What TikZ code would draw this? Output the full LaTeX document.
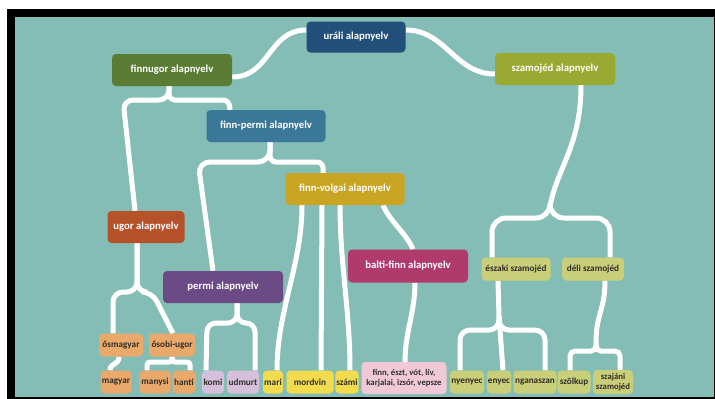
\documentclass[tikz,border=0pt]{standalone}
\usepackage{fontspec}
\setmainfont{Carlito}
\usetikzlibrary{backgrounds}
\definecolor{tealbg}{HTML}{84BDB5}
\definecolor{cUral}{HTML}{22507B}
\definecolor{cFinnugor}{HTML}{5B7C34}
\definecolor{cSzamojed}{HTML}{99A931}
\definecolor{cFinnpermi}{HTML}{3A7799}
\definecolor{cFinnvolgai}{HTML}{C9A523}
\definecolor{cUgor}{HTML}{B5522A}
\definecolor{cPermi}{HTML}{6B4A85}
\definecolor{cBalti}{HTML}{B03A6A}
\definecolor{cSam}{HTML}{C9CF78}
\definecolor{cOrange}{HTML}{E9A96A}
\definecolor{cLav}{HTML}{D5BFDB}
\definecolor{cYellow}{HTML}{F3DB4E}
\definecolor{cPink}{HTML}{F1C8D7}
\definecolor{leaftext}{HTML}{2E2E2A}
\begin{document}
\begin{tikzpicture}[x=1pt,y=-1pt,
  box/.style={rounded corners=4pt,inner sep=1pt,align=center,text=white,
    minimum height=32pt,font=\bfseries\fontsize{10.7}{11}\selectfont},
  leaf/.style={box,text=leaftext,minimum height=23pt,
    font=\bfseries\fontsize{9.2}{10}\selectfont},
  link/.style={draw=white,line width=5pt}]
\useasboundingbox (0,0) rectangle (715,399);
% top levels
\node[box,fill=cUral,minimum width=99pt,minimum height=31pt] (ural) at (356,37) {uráli alapnyelv};
\node[box,fill=cFinnugor,minimum width=120pt] (finnugor) at (172,70) {finnugor alapnyelv};
\node[box,fill=cSzamojed,minimum width=120pt] (szamojed) at (555,69) {szamojéd alapnyelv};
\node[box,fill=cFinnpermi,minimum width=119pt] (finnpermi) at (266,126) {finn-permi alapnyelv};
\node[box,fill=cFinnvolgai,minimum width=119pt] (finnvolgai) at (345,189) {finn-volgai alapnyelv};
\node[box,fill=cUgor,minimum width=77pt] (ugor) at (146,227) {ugor alapnyelv};
\node[box,fill=cPermi,minimum width=120pt] (permi) at (223,287) {permi alapnyelv};
\node[box,fill=cBalti,minimum width=120pt,minimum height=33pt] (balti) at (408,266) {balti-finn alapnyelv};
\node[leaf,fill=cSam,minimum width=69pt] (eszaki) at (516,269) {északi szamojéd};
\node[leaf,fill=cSam,minimum width=62pt] (deli) at (593,269) {déli szamojéd};
\node[leaf,fill=cOrange,minimum width=44pt] (osmagyar) at (121,345) {ősmagyar};
\node[leaf,fill=cOrange,minimum width=46pt] (osobi) at (172,345) {ősobi-ugor};
% leaves
\node[leaf,fill=cOrange,minimum width=31pt] (magyar) at (116,382) {magyar};
\node[leaf,fill=cOrange,minimum width=31pt] (manysi) at (155,382) {manysi};
\node[leaf,fill=cOrange,minimum width=23pt] (hanti) at (184,382) {hanti};
\node[leaf,fill=cLav,minimum width=22pt] (komi) at (213,382) {komi};
\node[leaf,fill=cLav,minimum width=32pt] (udmurt) at (243,382) {udmurt};
\node[leaf,fill=cYellow,minimum width=20pt] (mari) at (273,382) {mari};
\node[leaf,fill=cYellow,minimum width=47pt] (mordvin) at (310,382) {mordvin};
\node[leaf,fill=cYellow,minimum width=23pt] (szami) at (347,382) {számi};
\node[leaf,fill=cPink,minimum width=85pt,minimum height=32pt,font=\bfseries\fontsize{8.7}{9.5}\selectfont] (finn) at (404,378) {finn, észt, vót, lív,\\karjalai, izsór, vepsze};
\node[leaf,fill=cSam,minimum width=34pt] (nyenyec) at (467,382) {nyenyec};
\node[leaf,fill=cSam,minimum width=24pt] (enyec) at (499,382) {enyec};
\node[leaf,fill=cSam,minimum width=43pt] (nganaszan) at (535,382) {nganaszan};
\node[leaf,fill=cSam,minimum width=33pt] (szolkup) at (574,382) {szölkup};
\node[leaf,fill=cSam,minimum width=40pt,minimum height=24pt,font=\bfseries\fontsize{8.7}{9.5}\selectfont] (szajani) at (613,382) {szajáni\\szamojéd};
% junctions
\coordinate (fuL) at (123,100);
\coordinate (fuR) at (229,100);
\coordinate (fpL) at (198,162);
\coordinate (fpR) at (323,162);
\coordinate (ugL) at (113,292);
\coordinate (ugR) at (152,292);
\coordinate (obL) at (147,362);
\coordinate (obR) at (190,362);
\coordinate (peL) at (207,323);
\coordinate (peR) at (255,323);
\coordinate (jsz) at (550,206);
\coordinate (szL) at (492,218);
\coordinate (szR) at (610,218);
\coordinate (jes) at (499,316);
\coordinate (esL) at (460,330);
\coordinate (esR) at (545,330);
\coordinate (jde) at (596,343);
\coordinate (deL) at (570,351);
\coordinate (deR) at (620,351);
\begin{scope}[on background layer]
\fill[black] (7,9) rectangle (715,399);
\fill[tealbg] (15,17) rectangle (714,397);
\draw[link] ([yshift=7pt]ural.west) .. controls +(-38,0) and +(38,0) .. ([yshift=-7pt]finnugor.east);
\draw[link] ([yshift=7pt]ural.east) .. controls +(40,0) and +(-40,0) .. ([yshift=-5pt]szamojed.west);
\draw[link,rounded corners=10pt] ([xshift=-3pt]finnugor.south) |- (fuL) -- ([xshift=-11pt]ugor.north);
\draw[link,rounded corners=6pt] ([xshift=-3pt]finnugor.south) |- (fuR) -- ([xshift=-36pt]finnpermi.north);
\draw[link,rounded corners=12pt] ([xshift=4pt]finnpermi.south) |- (fpL) -- ([xshift=-10pt]permi.north);
\draw[link,rounded corners=6pt] ([xshift=4pt]finnpermi.south) |- (fpR) -- ([xshift=-22pt]finnvolgai.north);
\draw[link] ([xshift=-43pt]finnvolgai.south) .. controls +(0,60) and +(0,-60) .. ([xshift=4pt]mari.north);
\draw[link] ([xshift=-23pt]finnvolgai.south) -- ([xshift=11pt]mordvin.north);
\draw[link] ([xshift=-5pt]finnvolgai.south) .. controls +(0,60) and +(0,-60) .. ([xshift=3pt]szami.north);
\draw[link] ([xshift=38pt]finnvolgai.south) .. controls +(6,15) and +(-6,-15) .. ([xshift=5pt]balti.north);
\draw[link] ([xshift=7pt]balti.south) .. controls +(0,30) and +(0,-30) .. ([xshift=1pt]finn.north);
\draw[link,rounded corners=10pt] ([xshift=-9pt]ugor.south) |- (ugL) -- ([xshift=-8pt]osmagyar.north);
\draw[link,rounded corners=10pt] ([xshift=-9pt]ugor.south) |- (ugR) -- ([xshift=1pt]osobi.north);
\draw[link] ([xshift=-2pt]osmagyar.south) .. controls +(0,9) and +(0,-8) .. ([xshift=-6pt]magyar.north);
\draw[link,rounded corners=3pt] (osobi.south) |- (obL) -- ([xshift=-8pt]manysi.north);
\draw[link,rounded corners=3pt] (osobi.south) |- (obR) -- ([xshift=6pt]hanti.north);
\draw[link,rounded corners=9pt] ([xshift=14pt]permi.south) |- (peL) -- ([xshift=-7pt]komi.north);
\draw[link,rounded corners=9pt] ([xshift=14pt]permi.south) |- (peR) -- ([xshift=12pt]udmurt.north);
\draw[link] ([xshift=26pt]szamojed.south) .. controls +(0,60) and +(8,-40) .. (jsz);
\draw[link,rounded corners=14pt] (jsz) |- (szL) -- ([xshift=-24pt]eszaki.north);
\draw[link,rounded corners=14pt] (jsz) |- (szR) -- ([xshift=17pt]deli.north);
\draw[link] ([xshift=-18pt]eszaki.south) -- (jes);
\draw[link,rounded corners=10pt] (jes) |- (esL) -- ([xshift=-7pt]nyenyec.north);
\draw[link] (jes) -- ([xshift=4pt]enyec.north);
\draw[link,rounded corners=10pt] (jes) |- (esR) -- ([xshift=10pt]nganaszan.north);
\draw[link] ([xshift=12pt]deli.south) .. controls +(0,30) and +(0,-30) .. (jde);
\draw[link,rounded corners=5pt] (jde) |- (deL) -- ([xshift=-4pt]szolkup.north);
\draw[link,rounded corners=5pt] (jde) |- (deR) -- ([xshift=7pt]szajani.north);
\end{scope}
\end{tikzpicture}
\end{document}
